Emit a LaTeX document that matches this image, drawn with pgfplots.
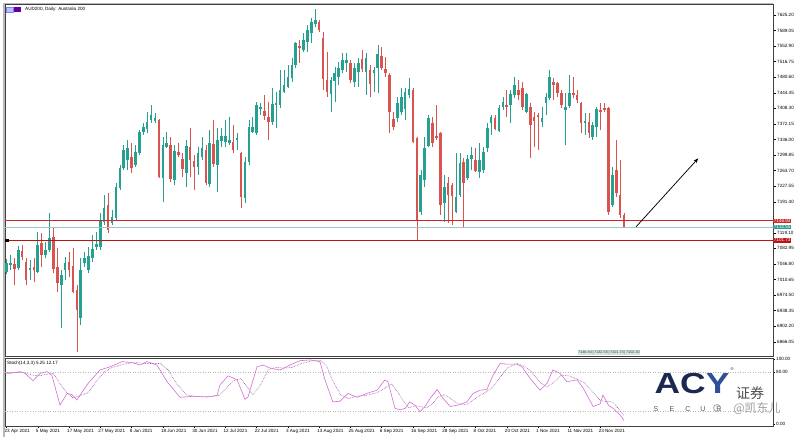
\documentclass[border=0pt]{standalone}
\usepackage{pgfplots}
\pgfplotsset{compat=1.18}
\usepackage{pgfplotstable}
\usepackage{fontspec}
\setmainfont{Liberation Sans}
\newfontfamily\cjk{Noto Sans CJK SC}
\usetikzlibrary{arrows.meta}
\definecolor{bull}{RGB}{38,160,145}
\definecolor{bear}{RGB}{217,83,79}
\definecolor{lineA}{RGB}{205,40,40}
\definecolor{lineB}{RGB}{150,200,205}
\definecolor{lineC}{RGB}{185,20,20}
\definecolor{boxteal}{RGB}{45,156,143}
\definecolor{stochmain}{RGB}{214,110,214}
\definecolor{stochsig}{RGB}{140,80,150}
\definecolor{navy}{RGB}{27,40,80}
\definecolor{ylogo}{RGB}{45,80,150}
\newcommand{\tf}{\fontsize{4.6}{5.5}\selectfont}
\pgfplotstableread{
i o h l c
0 7028.1 7058.3 7023.4 7049.0
1 7044.3 7067.5 7032.7 7049.0
2 7046.7 7060.6 6997.9 7035.0
3 7037.4 7088.5 7032.7 7079.2
4 7076.8 7090.8 7055.9 7062.9
5 7051.3 7060.6 6997.9 7009.5
6 7032.7 7055.9 7009.5 7037.4
7 7039.7 7060.6 7004.8 7032.7
8 7028.1 7121.0 7026.0 7090.8
9 7095.4 7118.7 7039.7 7067.5
10 7067.5 7097.7 7060.6 7079.2
11 7079.2 7165.2 7074.5 7107.0
12 7109.4 7132.6 7025.7 7035.0
13 7039.7 7083.8 6981.6 7002.5
14 6997.9 7032.7 6897.9 7021.1
15 7032.7 7062.9 7009.5 7049.0
16 7051.3 7074.5 7016.4 7032.7
17 7042.0 7083.8 6979.3 6981.6
18 6986.2 6997.9 6842.0 6939.8
19 6921.2 7060.6 6904.9 7032.7
20 7049.0 7074.5 7039.7 7060.6
21 7032.7 7086.1 7025.7 7065.2
22 7060.6 7114.0 7051.3 7081.5
23 7086.1 7121.0 7079.2 7093.1
24 7086.1 7165.2 7079.2 7148.9
25 7144.2 7207.0 7137.3 7176.8
26 7183.7 7211.6 7118.7 7125.6
27 7141.9 7172.1 7137.3 7155.9
28 7153.5 7234.9 7148.9 7225.6
29 7223.3 7276.7 7218.6 7269.7
30 7269.7 7323.2 7265.1 7311.5
31 7288.3 7334.8 7265.1 7316.2
32 7295.3 7327.8 7258.1 7269.7
33 7276.7 7323.2 7272.0 7306.9
34 7304.6 7358.0 7299.9 7353.4
35 7353.4 7374.3 7346.4 7365.0
36 7360.3 7399.8 7351.0 7376.6
37 7381.3 7416.1 7374.3 7392.9
38 7378.9 7397.5 7374.3 7385.9
39 7381.3 7383.6 7246.5 7248.8
40 7246.5 7341.7 7190.7 7323.2
41 7318.5 7353.4 7316.2 7327.8
42 7323.2 7341.7 7237.2 7244.2
43 7241.8 7323.2 7230.2 7309.2
44 7306.9 7327.8 7295.3 7299.9
45 7290.6 7304.6 7248.8 7267.4
46 7258.1 7334.8 7225.6 7320.8
47 7318.5 7362.7 7248.8 7288.3
48 7286.0 7299.9 7218.6 7272.0
49 7272.0 7318.5 7253.5 7304.6
50 7295.3 7341.7 7288.3 7316.2
51 7311.5 7323.2 7230.2 7234.9
52 7232.5 7358.0 7225.6 7327.8
53 7325.5 7381.3 7272.0 7279.0
54 7276.7 7362.7 7214.0 7334.8
55 7332.4 7362.7 7318.5 7344.1
56 7330.1 7381.3 7318.5 7344.1
57 7327.8 7388.2 7323.2 7334.8
58 7330.1 7369.7 7304.6 7311.5
59 7334.8 7351.0 7311.5 7339.4
60 7304.6 7306.9 7176.8 7202.4
61 7200.0 7295.3 7188.4 7283.7
62 7283.7 7381.3 7276.7 7365.0
63 7353.4 7388.2 7351.0 7365.0
64 7351.0 7423.1 7346.4 7416.1
65 7406.8 7420.8 7392.9 7411.5
66 7402.2 7439.4 7381.3 7390.5
67 7388.2 7423.1 7334.8 7376.6
68 7376.6 7455.6 7369.7 7418.4
69 7416.1 7446.3 7362.7 7420.8
70 7416.1 7497.4 7409.1 7451.0
71 7446.3 7497.4 7444.0 7462.6
72 7457.9 7509.1 7455.6 7481.2
73 7478.8 7525.3 7469.6 7509.1
74 7509.1 7562.5 7502.1 7560.2
75 7553.2 7567.2 7513.7 7548.6
76 7543.9 7583.4 7539.3 7567.2
77 7562.5 7602.0 7539.3 7590.4
78 7583.4 7618.3 7560.2 7609.0
79 7604.3 7639.2 7597.4 7613.6
80 7609.0 7613.6 7585.7 7590.4
81 7571.8 7585.7 7451.0 7476.5
82 7474.2 7539.3 7434.7 7446.3
83 7441.7 7481.2 7399.8 7474.2
84 7471.9 7504.4 7423.1 7490.5
85 7481.2 7516.0 7462.6 7502.1
86 7497.4 7536.9 7490.5 7520.7
87 7513.7 7536.9 7492.8 7520.7
88 7513.7 7520.7 7467.2 7474.2
89 7469.6 7513.7 7457.9 7502.1
90 7492.8 7525.3 7457.9 7513.7
91 7523.0 7543.9 7492.8 7499.8
92 7492.8 7536.9 7439.4 7525.3
93 7497.4 7509.1 7434.7 7464.9
94 7490.5 7504.4 7446.3 7497.4
95 7502.1 7555.5 7444.0 7534.6
96 7530.0 7550.9 7497.4 7502.1
97 7499.8 7527.7 7481.2 7490.5
98 7485.8 7490.5 7351.0 7399.8
99 7383.6 7399.8 7358.0 7365.0
100 7385.9 7434.7 7376.6 7420.8
101 7399.8 7455.6 7392.9 7434.7
102 7406.8 7455.6 7381.3 7446.3
103 7439.4 7478.8 7432.4 7453.3
104 7451.0 7455.6 7327.8 7330.1
105 7339.4 7341.7 7102.4 7148.9
106 7167.5 7265.1 7160.5 7253.5
107 7241.8 7341.7 7225.6 7316.2
108 7320.8 7392.9 7318.5 7385.9
109 7374.3 7388.2 7318.5 7327.8
110 7344.1 7416.1 7334.8 7339.4
111 7351.0 7353.4 7160.5 7183.7
112 7188.4 7253.5 7144.2 7225.6
113 7234.9 7248.8 7141.9 7207.0
114 7230.2 7234.9 7137.3 7204.7
115 7167.5 7304.6 7165.2 7202.4
116 7207.0 7304.6 7202.4 7281.3
117 7283.7 7293.0 7132.6 7234.9
118 7246.5 7299.9 7241.8 7290.6
119 7290.6 7318.5 7265.1 7299.9
120 7288.3 7316.2 7260.4 7262.8
121 7260.4 7327.8 7246.5 7288.3
122 7265.1 7318.5 7258.1 7306.9
123 7316.2 7374.3 7306.9 7362.7
124 7374.3 7392.9 7346.4 7388.2
125 7385.9 7392.9 7358.0 7360.3
126 7355.7 7416.1 7353.4 7409.1
127 7411.5 7434.7 7404.5 7423.1
128 7416.1 7451.0 7388.2 7411.5
129 7416.1 7451.0 7374.3 7441.7
130 7439.4 7481.2 7432.4 7462.6
131 7451.0 7474.2 7427.7 7439.4
132 7455.6 7469.6 7404.5 7411.5
133 7399.8 7444.0 7397.5 7441.7
134 7411.5 7420.8 7293.0 7369.7
135 7388.2 7399.8 7318.5 7378.9
136 7392.9 7397.5 7311.5 7388.2
137 7376.6 7411.5 7365.0 7385.9
138 7420.8 7444.0 7392.9 7434.7
139 7432.4 7497.4 7427.7 7481.2
140 7469.6 7478.8 7427.7 7462.6
141 7467.2 7469.6 7434.7 7444.0
142 7444.0 7451.0 7409.1 7416.1
143 7404.5 7444.0 7323.2 7411.5
144 7413.8 7485.8 7409.1 7444.0
145 7444.0 7481.2 7432.4 7439.4
146 7439.4 7451.0 7420.8 7427.7
147 7420.8 7423.1 7351.0 7374.3
148 7374.3 7397.5 7346.4 7378.9
149 7376.6 7397.5 7339.4 7351.0
150 7341.7 7376.6 7334.8 7369.7
151 7365.0 7411.5 7341.7 7406.8
152 7404.5 7420.8 7358.0 7399.8
153 7409.1 7420.8 7399.8 7404.5
154 7409.1 7411.5 7160.5 7167.5
155 7183.7 7272.0 7179.1 7253.5
156 7265.1 7334.8 7202.4 7211.6
157 7207.0 7288.3 7153.5 7160.5
158 7160.5 7165.2 7130.3 7132.6
}\candles
\begin{document}
\begin{tikzpicture}[x=1pt,y=1pt]
\fill[white] (0,0) rectangle (800,437);
\useasboundingbox (0,0) rectangle (800,437);
% ---------- price panel ----------
\begin{axis}[at={(5pt,81pt)}, anchor=south west, scale only axis,
  width=768pt, height=352pt,
  xmin=-0.38, xmax=196.12, ymin=6832.9, ymax=7650.8,
  xtick=\empty,
  ytick={6866.05,6902.20,6938.35,6974.50,7010.65,7046.80,7082.95,7119.10,7191.40,7227.55,7263.70,7299.85,7336.00,7372.15,7408.30,7444.45,7480.60,7516.75,7552.90,7589.05,7625.20},
  yticklabels={6866.05,6902.20,6938.35,6974.50,7010.65,7046.80,7082.95,7119.10,7191.40,7227.55,7263.70,7299.85,7336.00,7372.15,7408.30,7444.45,7480.60,7516.75,7552.90,7589.05,7625.20},
  ytick pos=right, yticklabel pos=right, tick align=outside,
  major tick length=3pt, tick style={black, line width=0.4pt},
  yticklabel style={font=\tf, inner sep=1pt},
  axis line style={black!75, line width=0.6pt},
  clip mode=individual]
% wicks
\addplot[draw=none, no markers, restrict expr to domain={\thisrow{c}-\thisrow{o}}{0:10000},
  error bars/.cd, y dir=plus, y explicit, error mark=none,
  error bar style={draw=bull, line width=0.55pt, solid}]
  table[x=i, y=l, y error expr=\thisrow{h}-\thisrow{l}] {\candles};
\addplot[draw=none, no markers, restrict expr to domain={\thisrow{o}-\thisrow{c}}{0.001:10000},
  error bars/.cd, y dir=plus, y explicit, error mark=none,
  error bar style={draw=bear, line width=0.55pt, solid}]
  table[x=i, y=l, y error expr=\thisrow{h}-\thisrow{l}] {\candles};
% bodies
\addplot[draw=none, no markers, restrict expr to domain={\thisrow{c}-\thisrow{o}}{0:10000},
  error bars/.cd, y dir=plus, y explicit, error mark=none,
  error bar style={draw=bull, line width=2.6pt, solid}]
  table[x=i, y=o, y error expr=\thisrow{c}-\thisrow{o}] {\candles};
\addplot[draw=none, no markers, restrict expr to domain={\thisrow{o}-\thisrow{c}}{0.001:10000},
  error bars/.cd, y dir=plus, y explicit, error mark=none,
  error bar style={draw=bear, line width=2.6pt, solid}]
  table[x=i, y=c, y error expr=\thisrow{o}-\thisrow{c}] {\candles};
% horizontal levels
\addplot[lineA, line width=1.1pt] coordinates {(-0.38,7146.94) (196.12,7146.94)};
\addplot[lineB, line width=0.7pt] coordinates {(-0.38,7132.55) (196.12,7132.55)};
\addplot[lineC, line width=1.2pt] coordinates {(-0.38,7101.73) (196.12,7101.73)};
\addplot[only marks, mark=square*, mark size=1.3pt, black] coordinates {(0,7101.73)};
% arrow
\addplot[black, line width=0.75pt, -{Stealth[length=5pt,width=3.6pt]}] coordinates {(161.1,7133.3) (177.0,7292.3)};
% price boxes
\node[fill=lineA, text=white, anchor=west, inner sep=0.7pt, font=\tf] at (axis cs:196.12,7146.94) {7146.94};
\node[fill=boxteal, text=white, anchor=west, inner sep=0.7pt, font=\tf] at (axis cs:196.12,7132.55) {7132.55};
\node[fill=lineC, text=white, anchor=west, inner sep=0.7pt, font=\tf] at (axis cs:196.12,7101.73) {7101.73};
\end{axis}
% ---------- stochastic panel ----------
\begin{axis}[at={(5pt,11pt)}, anchor=south west, scale only axis,
  width=768pt, height=68pt,
  xmin=-0.38, xmax=196.12, ymin=-3.1, ymax=101.5,
  ytick={0,80,100}, yticklabels={0.00,80.00,100.00},
  ytick pos=right, yticklabel pos=right,
  xtick={0,8,...,152},
  xticklabels={23 Apr 2021,5 May 2021,17 May 2021,27 May 2021,8 Jun 2021,18 Jun 2021,30 Jun 2021,12 Jul 2021,22 Jul 2021,3 Aug 2021,13 Aug 2021,25 Aug 2021,6 Sep 2021,16 Sep 2021,28 Sep 2021,8 Oct 2021,20 Oct 2021,1 Nov 2021,11 Nov 2021,23 Nov 2021},
  xtick pos=bottom,
  xticklabel style={anchor=north west, font=\tf, xshift=-3pt, inner sep=1pt},
  yticklabel style={font=\tf, inner sep=1pt},
  tick align=outside, major tick length=2pt, tick style={black, line width=0.4pt},
  axis line style={black!75, line width=0.6pt},
  clip mode=individual]
\addplot[gray!55, dotted, line width=0.5pt] coordinates {(-0.38,80) (196.12,80)};
\addplot[gray!55, dotted, line width=0.5pt] coordinates {(-0.38,20) (196.12,20)};
\addplot[stochsig, densely dotted, line width=0.6pt] coordinates {
(0,79)(2,79)(4,79.5)(6,76)(8,74)(10,76)(12,78)(13.7,62)(15.5,48)(17,40)(18.5,43)(20.9,48)(23,66)(25,80)(27,87)(30,92)(33,95)(35,93)(37,93)(39.5,93)(41.5,82)(43.5,62)(46,45)(49,42)(52,42)(54.5,44)(56,54)(58,66)(60,70)(61.8,55)(63,45)(65,60)(67,84)(69,87)(71,86)(73,87)(75.5,93)(78,97)(80.5,97.5)(82,88)(83.5,66)(85.5,45)(87.5,39)(89.7,43)(92,44)(94.8,48)(96.8,55)(98.5,62)(100,50)(101.5,36)(103,25)(104.5,28)(106,27)(107.5,25)(109,31)(110.5,42)(112,45)(113.5,40)(115.5,31)(117.8,30)(119.4,37)(121.2,44)(122.9,50)(124.5,57)(126.3,72)(128.1,86)(130.6,93)(132,90)(134,82)(136.5,64)(138.3,57)(140,64)(142,75)(144,74)(146,69)(148,63)(150,49)(152,36)(153,35)(155,34)(156.5,24)(158,12.17)};
\addplot[stochmain, line width=0.6pt] coordinates {
(0,78)(0.9,78)(3.5,80.5)(4.7,78)(6.8,66.6)(8.6,78)(10.4,80.5)(11.6,75)(13.7,29)(15.5,47)(16.8,45)(18,37)(20.9,62.6)(23.9,83)(26.5,88)(29.6,96)(32.4,94)(34.2,90.7)(36,96)(38.5,90.7)(41.1,65)(44.4,41)(47.7,42.6)(51.3,41.5)(53.9,44)(54.6,60)(56.7,74)(59,68)(61,38)(61.8,41.5)(64.1,88)(65.6,90.7)(67.4,86)(70,83)(72.5,90.7)(75.1,97.4)(77.7,98.5)(80.2,96)(81.5,67.7)(83.5,34)(85.3,35)(87.4,47)(89.7,41)(92.2,47)(94.8,52)(96.8,67.7)(97.6,65)(99.4,24)(100.7,22)(102,24)(103.2,34)(104.5,29)(105.8,19)(107.1,27)(108.4,39.5)(110.2,53)(111.7,39.5)(113.5,27)(115.5,29)(117.8,34)(119.4,47)(121.2,52)(122.9,53)(124.5,75)(126.3,93)(128.1,92)(130.6,92)(131.9,88)(134,70)(136.5,52)(138.3,62.6)(139.8,83)(141.6,78)(143.4,65)(146,68)(147.5,55.6)(150.1,27)(151.9,31)(152.6,44.5)(154,29)(155.2,24)(157,14)(158,5.25)};
\node[anchor=north west, font=\tf, inner sep=0pt] at (rel axis cs:0,1) [xshift=2pt, yshift=-2.5pt] {Stoch(14,3,3) 5.25 12.17};
\end{axis}
% ---------- window frame ----------
\draw[gray!55, line width=1.6pt] (3.8,0) -- (3.8,433.4) -- (773,433.4);
% title
\fill[blue!25] (6.5,425) rectangle (13,430);
\draw[blue!50, line width=0.3pt] (6.5,425) rectangle (13,430);
\fill[violet!75!blue] (14,425) rectangle (21,430);
\node[anchor=west, font=\tf, inner sep=0pt] at (25,427.5) {AUD200, Daily: Australia 200};
% line tooltip strip
\node[fill=gray!25, text=teal!70!black, font=\fontsize{3.8}{4}\selectfont, inner sep=0.6pt] at (609,84.5) {7146.94\,|\,7132.55\,|\,7101.73\,|\,7102.30};
% logo
\node[font=\fontsize{29}{29}\selectfont\bfseries, text=navy, xscale=1.22, inner sep=0pt] at (692,53) {AC\textcolor{ylogo}{Y}};
\node[font=\fontsize{4}{4}\selectfont, text=navy, inner sep=0pt] at (732,68) {®};
\node[font=\cjk\fontsize{14}{14}\selectfont, text=black!70, inner sep=0pt] at (750,44) {证券};
\foreach \xx/\ll in {656/S,672/E,688/C,703/U,719/R}
  \node[font=\fontsize{7}{7}\selectfont, text=navy!80, inner sep=0pt] at (\xx,28) {\ll};
\node[font=\cjk\fontsize{12}{12}\selectfont, text=gray!75, inner sep=0pt] at (757,29) {@凯东儿};
\draw[gray!70, line width=0.8pt] (717,29) circle (3.5pt);
\end{tikzpicture}
\end{document}
